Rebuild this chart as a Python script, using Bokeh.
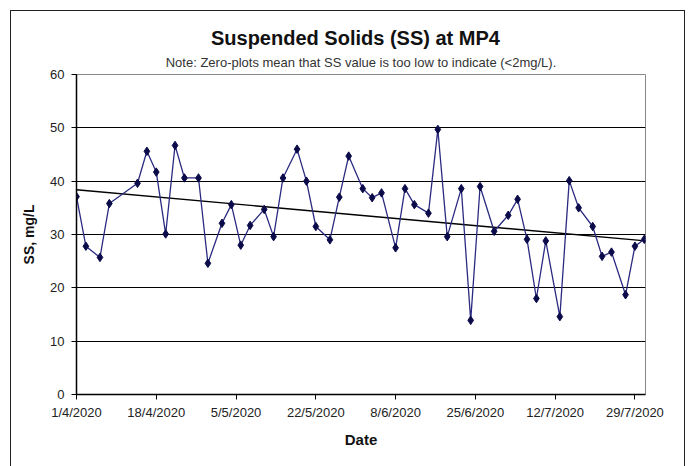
import numpy as np
import pandas as pd
from bokeh.plotting import figure
from bokeh.models import (Title, FixedTicker, DatetimeTickFormatter, Range1d,
                          ColumnDataSource, SingleIntervalTicker, InlineStyleSheet,
                          BoxAnnotation)
from bokeh.embed import file_html
from bokeh.resources import INLINE

# ---- data ----
dates = ["2020-04-01", "2020-04-03", "2020-04-06", "2020-04-08", "2020-04-14",
         "2020-04-16", "2020-04-18", "2020-04-20", "2020-04-22", "2020-04-24",
         "2020-04-27", "2020-04-29", "2020-05-02", "2020-05-04", "2020-05-06",
         "2020-05-08", "2020-05-11", "2020-05-13", "2020-05-15", "2020-05-18",
         "2020-05-20", "2020-05-22", "2020-05-25", "2020-05-27", "2020-05-29",
         "2020-06-01", "2020-06-03", "2020-06-05", "2020-06-08", "2020-06-10",
         "2020-06-12", "2020-06-15", "2020-06-17", "2020-06-19", "2020-06-22",
         "2020-06-24", "2020-06-26", "2020-06-29", "2020-07-02", "2020-07-04",
         "2020-07-06", "2020-07-08", "2020-07-10", "2020-07-13", "2020-07-15",
         "2020-07-17", "2020-07-20", "2020-07-22", "2020-07-24", "2020-07-27",
         "2020-07-29", "2020-07-31"]
ss_values = [37.1, 27.8, 25.7, 35.8, 39.6,
             45.6, 41.7, 30.1, 46.7, 40.6,
             40.6, 24.6, 32.1, 35.6, 28.0,
             31.7, 34.7, 29.6, 40.6, 46.0,
             40.0, 31.5, 29.0, 37.0, 44.7,
             38.6, 36.9, 37.8, 27.5, 38.6,
             35.6, 34.0, 49.7, 29.6, 38.6,
             13.9, 39.0, 30.6, 33.6, 36.6,
             29.1, 18.0, 28.8, 14.6, 40.1,
             35.0, 31.5, 25.9, 26.7, 18.7,
             27.8, 29.1]
tick_dates = ["2020-04-01", "2020-04-18", "2020-05-05", "2020-05-22",
              "2020-06-08", "2020-06-25", "2020-07-12", "2020-07-29"]
x_start, x_end = "2020-04-01", "2020-07-31 06:00"

title_text = "Suspended  Solids  (SS) at MP4"
note_text = "Note: Zero-plots mean that SS value is too low to indicate (<2mg/L)."

# ---- build ----
dt = pd.to_datetime(dates)
src = ColumnDataSource(dict(x=dt, y=ss_values))

days = (dt - dt[0]).days.values.astype(float)
slope, intercept = np.polyfit(days, np.array(ss_values), 1)
t0 = pd.Timestamp(x_start)
t1 = pd.Timestamp(x_end)
span_days = (t1 - t0) / pd.Timedelta(days=1)
trend_x = [t0, t1]
trend_y = [intercept, intercept + slope * span_days]

FONT = "Liberation Sans"

p = figure(width=694, height=466, x_axis_type="datetime",
           output_backend="svg", toolbar_location=None,
           x_range=Range1d(t0, t1), y_range=Range1d(0, 60),
           min_border_left=76, min_border_right=49,
           min_border_top=74, min_border_bottom=72)

p.stylesheets = [InlineStyleSheet(css=(
    ":host { position: relative; overflow: hidden; }"
    ":host::after { content: ''; position: absolute; left: 10px; top: 10px;"
    " width: 675px; height: 470px; border: 1.5px solid #222;"
    " box-sizing: border-box; z-index: 50; pointer-events: none; }"))]

frame_box = BoxAnnotation(left=10, right=686, top=10, bottom=470,
                          left_units="canvas", right_units="canvas",
                          top_units="canvas", bottom_units="canvas",
                          fill_alpha=0, line_color="#222222", line_width=1.5,
                          level="overlay")
p.add_layout(frame_box)

note = Title(text=note_text, align="center", text_font=FONT,
             text_font_size="13px", text_font_style="normal",
             text_color="#333333", offset=0, standoff=9)
p.add_layout(note, "above")
main = Title(text=title_text, align="center", text_font=FONT,
             text_font_size="20px", text_font_style="bold",
             text_color="#111111", standoff=0)
p.add_layout(main, "above")

p.outline_line_color = "#888888"
p.outline_line_width = 1

p.xgrid.visible = False
p.ygrid.grid_line_color = "black"
p.ygrid.grid_line_width = 1.2
p.yaxis.ticker = SingleIntervalTicker(interval=10)

p.xaxis.ticker = FixedTicker(ticks=[pd.Timestamp(d).value / 1e6 for d in tick_dates])
p.xaxis.formatter = DatetimeTickFormatter(days="%-d/%-m/%Y", months="%-d/%-m/%Y")

for ax in (p.xaxis[0], p.yaxis[0]):
    ax.axis_line_color = "black"
    ax.axis_line_width = 1.5
    ax.major_tick_line_color = "black"
    ax.major_tick_in = 0
    ax.major_tick_out = 5
    ax.minor_tick_line_color = None
    ax.major_label_text_font = FONT
    ax.major_label_text_color = "#222222"
    ax.axis_label_text_font = FONT
    ax.axis_label_text_font_style = "bold"
    ax.axis_label_text_color = "#111111"

p.xaxis.major_label_text_font_size = "13px"
p.yaxis.major_label_text_font_size = "13px"
p.xaxis.major_label_standoff = 5
p.yaxis.major_label_standoff = 7
p.xaxis.axis_label = "Date"
p.xaxis.axis_label_text_font_size = "15px"
p.xaxis.axis_label_standoff = 8
p.yaxis.axis_label = "SS, mg/L"
p.yaxis.axis_label_text_font_size = "14px"
p.yaxis.axis_label_standoff = 10

p.line(trend_x, trend_y, line_color="black", line_width=1.4)
p.line("x", "y", source=src, line_color="#2a2a80", line_width=1.3)
p.scatter("x", "y", source=src, marker="diamond", size=8.5,
          fill_color="#0b0b4a", line_color="#0b0b4a")

open("out.html", "w").write(file_html(p, INLINE))
